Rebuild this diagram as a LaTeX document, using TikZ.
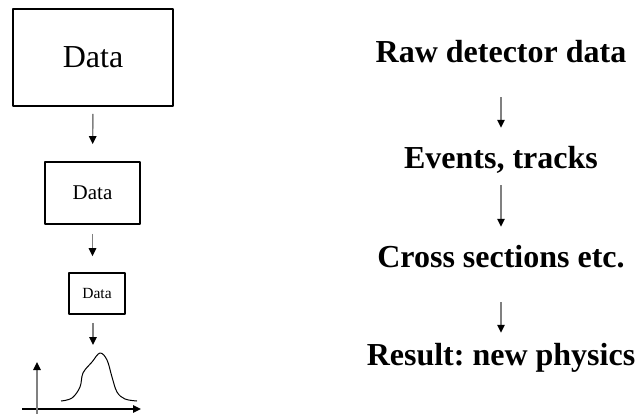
\documentclass[tikz,border=0pt]{standalone}
\usepackage{fontspec}
\setmainfont{Liberation Serif}
\frenchspacing
\usetikzlibrary{arrows.meta}
\definecolor{flowgray}{RGB}{128,128,128}
\tikzset{
    databox/.style={
        draw, line width=1.8pt, inner sep=0pt
    },
    flow/.style={
        draw=flowgray, line width=1.4pt,
        -{Triangle[length=8pt,width=7.5pt,color=black]}
    },
    stage/.style={
        font=\bfseries\fontsize{32}{38}\selectfont,
        anchor=base, inner sep=0pt, text height=23pt, text depth=7pt
    }
}

\begin{document}
\begin{tikzpicture}[x=1pt,y=-1pt,line cap=butt,line join=round]

% --- page frame (pixel grid of the reference) ---
    \useasboundingbox (0,0) rectangle (639,414);

% left column: shrinking data boxes
    \node[databox, minimum width=160pt, minimum height=97pt,
          font=\fontsize{32}{38}\selectfont] (big) at (93,57.5) {Data};
    \node[databox, minimum width=95pt, minimum height=62pt,
          font=\fontsize{21}{25}\selectfont] (mid) at (92.5,193) {Data};
    \node[databox, minimum width=56pt, minimum height=41pt,
          font=\fontsize{15.5}{18}\selectfont] (small) at (97,293.5) {Data};

    \draw[flow, shorten <=7pt, shorten >=17pt] (big.south) -- (mid.north);
    \draw[flow, shorten <=9pt, shorten >=16pt] (mid.south) -- (mid.south |- small.north);
    \coordinate (plotin) at (93,345);
    \draw[flow, shorten <=8pt] (small.south -| plotin) -- (plotin);

% little plot: axes and a bump
    \coordinate (origin) at (37,409);
    \coordinate (xend) at (141,409);
    \coordinate (yend) at (37,362);
    \draw[line width=1.4pt, -{Triangle[length=8pt,width=7.5pt]}] (22,409) -- (xend);
    \draw[flow] (37,414) -- (yend);
    \draw[line width=1pt] plot[smooth, tension=0.6] coordinates {
        (61,401) (72,398) (80,387) (83,373) (92,362) (100,353)
        (107,360) (112,377) (117,392) (125,399) (137,401)};

% right column: processing chain
    \node[stage] (raw)    at (501,63)  {Raw detector data};
    \node[stage] (events) at (501,168) {Events, tracks};
    \node[stage] (cross)  at (501,267) {Cross sections etc.};
    \node[stage] (result) at (501,365) {Result: new physics};

    \draw[flow, shorten <=27pt, shorten >=17pt] (raw) -- (events);
    \draw[flow, shorten <=10pt, shorten >=17pt] (events) -- (cross);
    \draw[flow, shorten <=28pt, shorten >=9pt]  (cross) -- (result);

  \end{tikzpicture}
\end{document}
